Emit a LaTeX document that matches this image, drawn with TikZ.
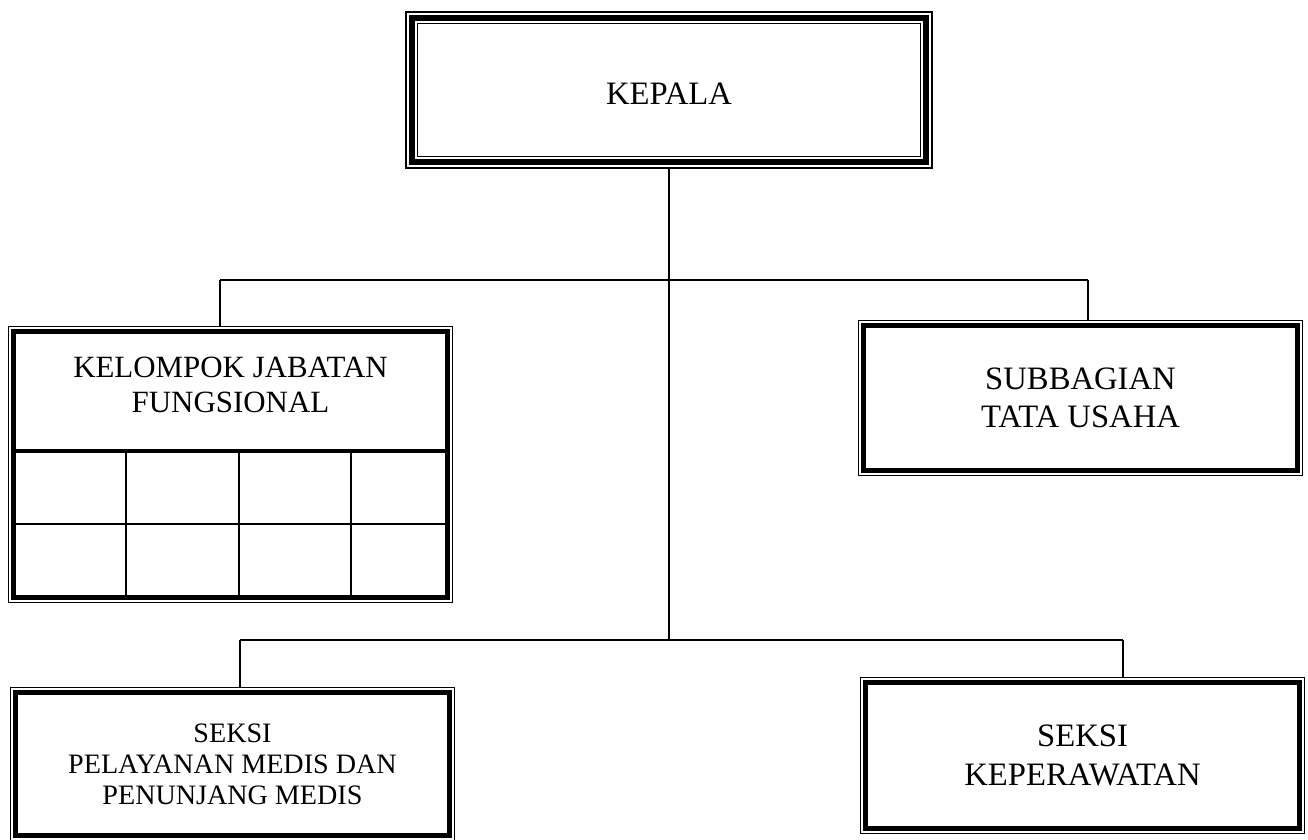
\documentclass[tikz,border=0pt]{standalone}
\usepackage{fontspec}
\setmainfont{Liberation Serif}
\usepackage{tikz}

\begin{document}
\begin{tikzpicture}[
		x=0.02cm, y=-0.02cm,
		line width=0.6pt,
		mainbox/.style = {draw, fill=white, line width=2.8pt, outer sep=3.1pt, align=center,
			minimum width=8.68cm,
			preaction={draw, black, line width=6.2pt},
			preaction={draw, white, line width=5pt}},
		headbox/.style = {draw, fill=white, line width=0.6pt, outer sep=7pt, align=center,
			preaction={draw, black, line width=14pt},
			preaction={draw, white, line width=12.4pt},
			preaction={draw, black, line width=9.2pt},
			preaction={draw, white, line width=3.2pt}},
		big/.style = {font=\fontsize{18.6}{22}\selectfont},
		mid/.style = {font=\fontsize{17.6}{20}\selectfont},
		small/.style = {font=\fontsize{16}{17.6}\selectfont}
	]
		\useasboundingbox (0,0) rectangle (1308,839);
		\node[headbox, big, minimum width=10.06cm, minimum height=2.66cm, text height=17pt] (1) at (669,90) {KEPALA};
		\node[mainbox, minimum height=5.32cm] (2) at (230.5,464.5) {};
		\node[mid, align=center] (2t) at (230.5,385) {KELOMPOK JABATAN\\FUNGSIONAL};
		\node[mainbox, big, minimum height=2.9cm] (3) at (1080.5,398) {SUBBAGIAN\\TATA USAHA};
		\node[mainbox, small, minimum height=2.86cm] (4) at (232.5,764) {SEKSI\\PELAYANAN MEDIS DAN\\PENUNJANG MEDIS};
		\node[mainbox, big, minimum height=2.92cm] (5) at (1082.5,755.5) {SEKSI\\KEPERAWATAN};
		% table under the functional group
		\draw[line width=2.8pt] (13.5,451) -- (447.5,451);
		\draw (13.5,524) -- (447.5,524);
		\foreach \x in {126,239,351}
			\draw (\x,451) -- (\x,597.5);
		% lines
		\coordinate (a) at (220,280);
		\coordinate (b) at (1088,280);
		\coordinate (c) at (240,640);
		\coordinate (d) at (1123,640);
		\draw (1.south) -- (1.south |- c);
		\draw (a) -- (b);
		\draw (c) -- (d);
		\draw (a) -- (a |- 2.north);
		\draw (b) -- (b |- 3.north);
		\draw (c) -- (c |- 4.north);
		\draw (d) -- (d |- 5.north);
	\end{tikzpicture}
\end{document}
